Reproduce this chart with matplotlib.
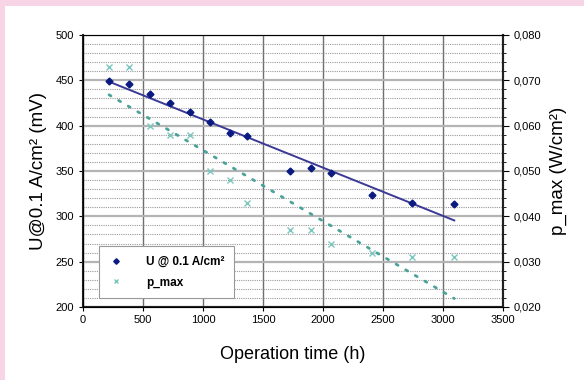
import numpy as np
import matplotlib
matplotlib.use("Agg")
import matplotlib.pyplot as plt
from matplotlib.patches import Rectangle
from matplotlib.ticker import MultipleLocator

plt.rcParams['font.family'] = ['Liberation Sans', 'DejaVu Sans']

# operation time (h) and measurements
hours = [217, 383, 556, 722, 889, 1056, 1225, 1369, 1725, 1897, 2067, 2406, 2739, 3094]
u_mv = [449, 446, 435, 425, 415, 404, 392, 389, 350, 353, 348, 324, 315, 314]
p_max = [0.073, 0.073, 0.060, 0.058, 0.058, 0.050, 0.048, 0.043, 0.037, 0.037,
         0.034, 0.032, 0.031, 0.031]

right_ticks = [0.020, 0.030, 0.040, 0.050, 0.060, 0.070, 0.080]
right_labels = ["0,020", "0,030", "0,040", "0,050", "0,060", "0,070", "0,080"]

fig = plt.figure(figsize=(5.84, 3.80), dpi=100)
fig.patch.set_facecolor("white")
# pink frame strips
fig.add_artist(Rectangle((0, 1 - 6 / 380), 1, 6 / 380, transform=fig.transFigure,
                         color="#f7d4e6", lw=0, zorder=0))
fig.add_artist(Rectangle((0, 0), 5 / 584, 1, transform=fig.transFigure,
                         color="#f7d4e6", lw=0, zorder=0))

ax = fig.add_axes([83 / 584, 1 - 307 / 380, 420 / 584, 272 / 380])
ax.set_xlim(0, 3500)
ax.set_ylim(200, 500)
ax.xaxis.set_major_locator(MultipleLocator(500))
ax.yaxis.set_major_locator(MultipleLocator(50))
ax.yaxis.set_minor_locator(MultipleLocator(10))
ax.grid(axis="x", which="major", color="#6e6e6e", lw=1.0)
ax.grid(axis="y", which="major", color="#b4b4b4", lw=1.6)
ax.grid(axis="y", which="minor", color="#9a9a9a", lw=0.8, ls=(0, (1.0, 1.0)))
ax.set_axisbelow(True)
for side in ["left", "bottom", "right"]:
    ax.spines[side].set_linewidth(1.5)
    ax.spines[side].set_color("#222222")
ax.spines["top"].set_color("#555555")
ax.tick_params(axis="both", which="major", labelsize=8, length=3, width=0.8, direction="out")
ax.tick_params(axis="y", which="minor", length=0)
ax.tick_params(axis="x", pad=3)

ax2 = ax.twinx()
ax2.set_ylim(0.020, 0.080)
ax2.set_yticks(right_ticks)
ax2.set_yticklabels(right_labels)
ax2.yaxis.set_minor_locator(MultipleLocator(0.002))
ax2.tick_params(axis="y", which="major", labelsize=8, length=4, width=0.8)
ax2.tick_params(axis="y", which="minor", length=2, width=0.6)
ax2.spines["right"].set_linewidth(1.5)
ax2.spines["right"].set_color("#222222")

h = np.array(hours)
# linear trends
cu = np.polyfit(h, u_mv, 1)
cp = np.polyfit(h, p_max, 1)
hx = np.array([h.min(), h.max()])
ax.plot(hx, np.polyval(cu, hx), color="#3a3a96", lw=1.4, zorder=3)
ax2.plot(hx, np.polyval(cp, hx), color="#4aa39a", lw=2.0, ls=(0, (0.8, 3.2)),
         dash_capstyle="round", zorder=3)

ax.plot(hours, u_mv, ls="none", marker="D", ms=3.5, color="#0a1a80",
        label="U @ 0.1 A/cm²", zorder=4)
ax2.plot(hours, p_max, ls="none", marker="x", ms=3.8, mew=1.0, color="#7cc7bf",
         label="p_max", zorder=4)

ax.set_xlabel("Operation time (h)", fontsize=13, labelpad=15)
ax.set_ylabel("U@0.1 A/cm² (mV)", fontsize=13.5, labelpad=6)
ax2.set_ylabel("p_max (W/cm²)", fontsize=13.5, labelpad=6)

h1, l1 = ax.get_legend_handles_labels()
h2, l2 = ax2.get_legend_handles_labels()
leg = ax2.legend(h1 + h2, l1 + l2, loc="lower left", bbox_to_anchor=(0.03, 0.02),
                 fancybox=False, framealpha=1, edgecolor="#999999",
                 prop={"size": 8.5, "weight": "bold"}, handlelength=1.2,
                 borderpad=0.8, labelspacing=0.75, handletextpad=2.0, markerscale=0.8,
                 borderaxespad=0.3)
leg.get_frame().set_linewidth(0.8)

fig.savefig("out.png", dpi=100)
